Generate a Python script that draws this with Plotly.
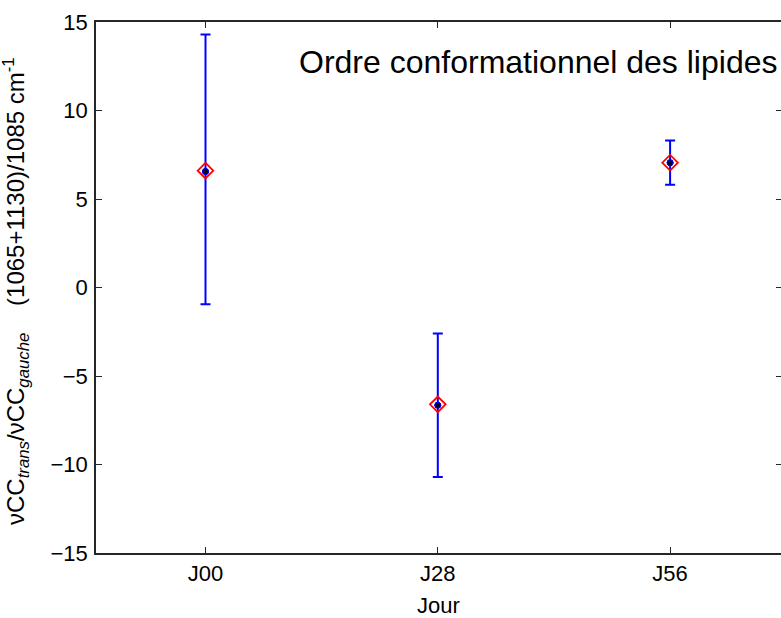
import plotly.graph_objects as go

days = ["J00", "J28", "J56"]
positions = [1, 2, 3]
means = [6.6, -6.6, 7.05]
centers = [6.55, -6.65, 7.05]
upper = [14.3, -2.6, 8.3]
lower = [-0.95, -10.7, 5.8]
y_ticks = [-15, -10, -5, 0, 5, 10, 15]

err_plus = [u - c for u, c in zip(upper, centers)]
err_minus = [c - l for c, l in zip(centers, lower)]

FONT = "Liberation Sans, Arial, sans-serif"
AX = "#262626"

fig = go.Figure()
fig.add_trace(go.Scatter(
    x=positions, y=centers, mode="markers",
    marker=dict(color="#000020", size=6, line=dict(color="#0000ff", width=1)),
    error_y=dict(type="data", symmetric=False, array=err_plus, arrayminus=err_minus,
                 color="#0000ff", thickness=2, width=5),
    showlegend=False, hoverinfo="skip",
))
fig.add_trace(go.Scatter(
    x=positions, y=means, mode="markers",
    marker=dict(symbol="diamond-open", color="#ff0000", size=12, line=dict(width=1.8)),
    showlegend=False,
))
fig.add_trace(go.Scatter(
    x=positions, y=centers, mode="markers",
    marker=dict(color="#000020", size=6, line=dict(color="#0000ff", width=1)),
    showlegend=False,
))
# invisible trace for right-side ticks
fig.add_trace(go.Scatter(x=[None], y=[None], yaxis="y2", showlegend=False))

x_left = 1 - 109.5 / 232.3
x_right = x_left + 685 / 232.3

fig.update_layout(
    width=781, height=618,
    margin=dict(l=96, r=0, t=22, b=65),
    paper_bgcolor="white", plot_bgcolor="white",
    font=dict(family=FONT, color="black"),
    xaxis=dict(
        range=[x_left, x_right], tickmode="array", tickvals=positions, ticktext=days,
        ticks="inside", ticklen=6, tickcolor=AX, tickwidth=1,
        showline=True, linecolor=AX, linewidth=1.5, mirror="ticks",
        showgrid=False, zeroline=False,
        tickfont=dict(size=22, family=FONT),
        title=dict(text="Jour", font=dict(size=22, family=FONT), standoff=13),
    ),
    yaxis=dict(
        range=[-15, 15], tickmode="array", tickvals=y_ticks,
        ticks="inside", ticklen=6, tickcolor=AX, tickwidth=1,
        showline=True, linecolor=AX, linewidth=1.5,
        showgrid=False, zeroline=False, ticklabelstandoff=2,
        tickfont=dict(size=22, family=FONT),
    ),
    yaxis2=dict(
        range=[-15, 15], tickmode="array", tickvals=y_ticks, overlaying="y", side="right",
        ticks="inside", ticklen=5, tickcolor=AX, tickwidth=1,
        showline=False, linecolor="rgba(0,0,0,0)", linewidth=0,
        showticklabels=False, showgrid=False, zeroline=False,
    ),
    annotations=[
        dict(text="Ordre conformationnel des lipides", xref="paper", yref="paper",
             x=0.997, y=0.925, xanchor="right", yanchor="middle", showarrow=False,
             font=dict(size=32, family=FONT, color="black")),
        dict(text="νCC<sub><i>trans</i></sub>/νCC<sub><i>gauche</i></sub>    (1065+1130)/1085 cm<sup>-1</sup>",
             xref="paper", yref="paper", x=(16 - 96) / 685, y=(553 - 291) / 531,
             xanchor="center", yanchor="middle", textangle=-90, showarrow=False,
             font=dict(size=24, family=FONT, color="black")),
    ],
)

fig.write_html("out.html", config={"displayModeBar": False},
               post_script="document.body.style.margin='0';"
                           "document.body.style.overflow='hidden';"
                           "document.documentElement.style.overflow='hidden';")
